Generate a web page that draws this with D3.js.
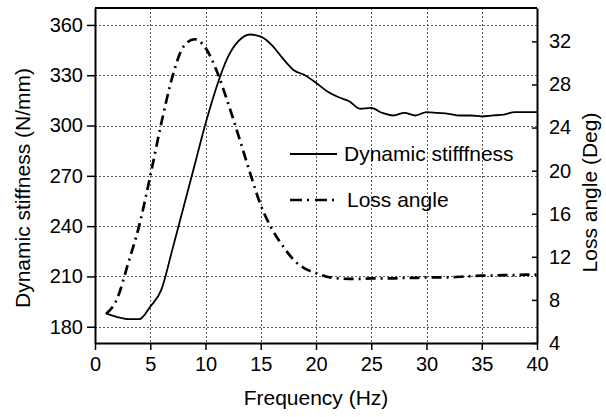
<!DOCTYPE html>
<html>
<head>
<meta charset="utf-8">
<script src="https://cdn.jsdelivr.net/npm/d3@7"></script>
<style>
  body { margin: 0; background: #fff; }
  svg { font-family: "Liberation Sans", Arial, sans-serif; }
</style>
</head>
<body>
<div id="chart"></div>
<script>
// frequency (Hz)
const freq = [1, 2, 3, 4, 5, 6, 7, 8, 9, 10, 11, 12, 13, 14, 15, 16, 17, 18, 19, 20,
    21, 22, 23, 24, 25, 26, 27, 28, 29, 30, 31, 32, 33, 34, 35, 36, 37, 38, 39, 40];

// dynamic stiffness (N/mm), left axis
const stiffness = [188, 185.8, 184.5, 184.5, 192, 202, 226, 251, 276, 301, 323, 340.5, 350.5, 354.3, 353,
    348, 340, 333, 330, 325.5, 320.5, 317, 314.5, 310, 310.5, 307.5, 306, 307.5, 306, 308,
    307.5, 307, 306, 306, 305.5, 306, 306.5, 308, 308, 308];

// loss angle (Deg), right axis
const lossAngle = [6.7, 8.1, 11.4, 14.9, 19.5, 24.4, 28.7, 31.5, 32.2, 31.4, 29.3, 26.4, 23.2,
    19.9, 16.8, 14.6, 13.0, 11.7, 10.9, 10.5, 10.15, 10.0, 9.95, 9.95, 10.0, 10.0, 10.0, 10.05,
    10.05, 10.1, 10.1, 10.1, 10.15, 10.2, 10.25, 10.25, 10.3, 10.3, 10.35, 10.35];

const xTicks = [0, 5, 10, 15, 20, 25, 30, 35, 40];
const yLeftTicks = [180, 210, 240, 270, 300, 330, 360];
const yRightTicks = [4, 8, 12, 16, 20, 24, 28, 32];

const legendItems = ["Dynamic stifffness", "Loss angle"];

// Canvas
const W = 606, H = 417;
const margin = { top: 8, right: 69, bottom: 74, left: 95 },
    width = W - margin.left - margin.right,
    height = H - margin.top - margin.bottom;

const svg = d3.select("#chart")
    .append("svg")
    .attr("width", W)
    .attr("height", H)
    .append("g")
    .attr("transform", `translate(${margin.left},${margin.top})`);

// Scales
const xScale = d3.scaleLinear().domain([0, 40]).range([0, width]);
const yLeft = d3.scaleLinear().domain([170.3, 370.1]).range([height, 0]);
const yRight = d3.scaleLinear().domain([4, 35.1]).range([height, 0]);

const crisp = v => Math.round(v) + 0.5;

// Grid lines (dotted)
svg.append("g")
    .selectAll("line")
    .data(yLeftTicks)
    .enter()
    .append("line")
    .attr("x1", 0).attr("x2", width)
    .attr("y1", d => crisp(yLeft(d))).attr("y2", d => crisp(yLeft(d)))
    .attr("stroke", "#555")
    .attr("stroke-width", 1)
    .attr("stroke-dasharray", "2,2");

svg.append("g")
    .selectAll("line")
    .data(xTicks.slice(1, -1))
    .enter()
    .append("line")
    .attr("x1", d => crisp(xScale(d))).attr("x2", d => crisp(xScale(d)))
    .attr("y1", 0).attr("y2", height)
    .attr("stroke", "#555")
    .attr("stroke-width", 1)
    .attr("stroke-dasharray", "2,2");

// Axes
const xAxis = d3.axisBottom(xScale).tickValues(xTicks).tickSize(7).tickPadding(6).tickSizeOuter(0);
const yAxisL = d3.axisLeft(yLeft).tickValues(yLeftTicks).tickSize(8).tickPadding(4).tickSizeOuter(0);
const yAxisR = d3.axisRight(yRight).tickValues(yRightTicks).tickSize(-5).tickPadding(12).tickSizeOuter(0);

const gx = svg.append("g")
    .attr("transform", `translate(0,${height})`)
    .call(xAxis);
const gl = svg.append("g").call(yAxisL);
const gr = svg.append("g")
    .attr("transform", `translate(${width},0)`)
    .call(yAxisR);

[gx, gl, gr].forEach(g => {
    g.selectAll("text")
        .attr("font-size", 20)
        .attr("font-family", "Liberation Sans, Arial, sans-serif")
        .attr("fill", "#000");
    g.selectAll(".tick line").attr("stroke", "#000").attr("stroke-width", 1.5);
    g.select(".domain").attr("stroke", "#000").attr("stroke-width", 2);
});
gx.selectAll("text").attr("dy", "0.75em");

// top frame line
svg.append("line")
    .attr("x1", 0).attr("x2", width)
    .attr("y1", 0).attr("y2", 0)
    .attr("stroke", "#000")
    .attr("stroke-width", 2);

// Lines
const stiffData = freq.map((f, i) => ({ f: f, v: stiffness[i] }));
const lossData = freq.map((f, i) => ({ f: f, v: lossAngle[i] }));

svg.append("path")
    .datum(stiffData)
    .attr("fill", "none")
    .attr("stroke", "#000")
    .attr("stroke-width", 1.8)
    .attr("d", d3.line()
        .curve(d3.curveMonotoneX)
        .x(d => xScale(d.f))
        .y(d => yLeft(d.v)));

svg.append("path")
    .datum(lossData)
    .attr("fill", "none")
    .attr("stroke", "#000")
    .attr("stroke-width", 2.7)
    .attr("stroke-dasharray", "10,5,2,5")
    .attr("d", d3.line()
        .curve(d3.curveMonotoneX)
        .x(d => xScale(d.f))
        .y(d => yRight(d.v)));

// Legend
const legend = svg.append("g");
legendItems.forEach((name, i) => {
    const ly = 146 + i * 46;
    legend.append("line")
        .attr("x1", 195).attr("x2", 242)
        .attr("y1", ly).attr("y2", ly)
        .attr("stroke", "#000")
        .attr("stroke-width", i === 0 ? 1.8 : 2.7)
        .attr("stroke-dasharray", i === 0 ? null : "12,5,2,6");
    legend.append("text")
        .attr("x", 249 + i * 3)
        .attr("y", ly)
        .attr("dy", "0.35em")
        .attr("font-size", 21)
        .text(name);
});

// Axis labels
svg.append("text")
    .attr("text-anchor", "middle")
    .attr("x", width / 2)
    .attr("y", height + 62)
    .attr("font-size", 21)
    .text("Frequency (Hz)");

svg.append("text")
    .attr("text-anchor", "middle")
    .attr("transform", `translate(${-72},${180}) rotate(-90)`)
    .attr("dy", "0.35em")
    .attr("font-size", 21)
    .text("Dynamic stiffness (N/mm)");

svg.append("text")
    .attr("text-anchor", "middle")
    .attr("transform", `translate(${width + 53},${184.5}) rotate(-90)`)
    .attr("dy", "0.35em")
    .attr("font-size", 21)
    .text("Loss angle (Deg)");
</script>
</body>
</html>
